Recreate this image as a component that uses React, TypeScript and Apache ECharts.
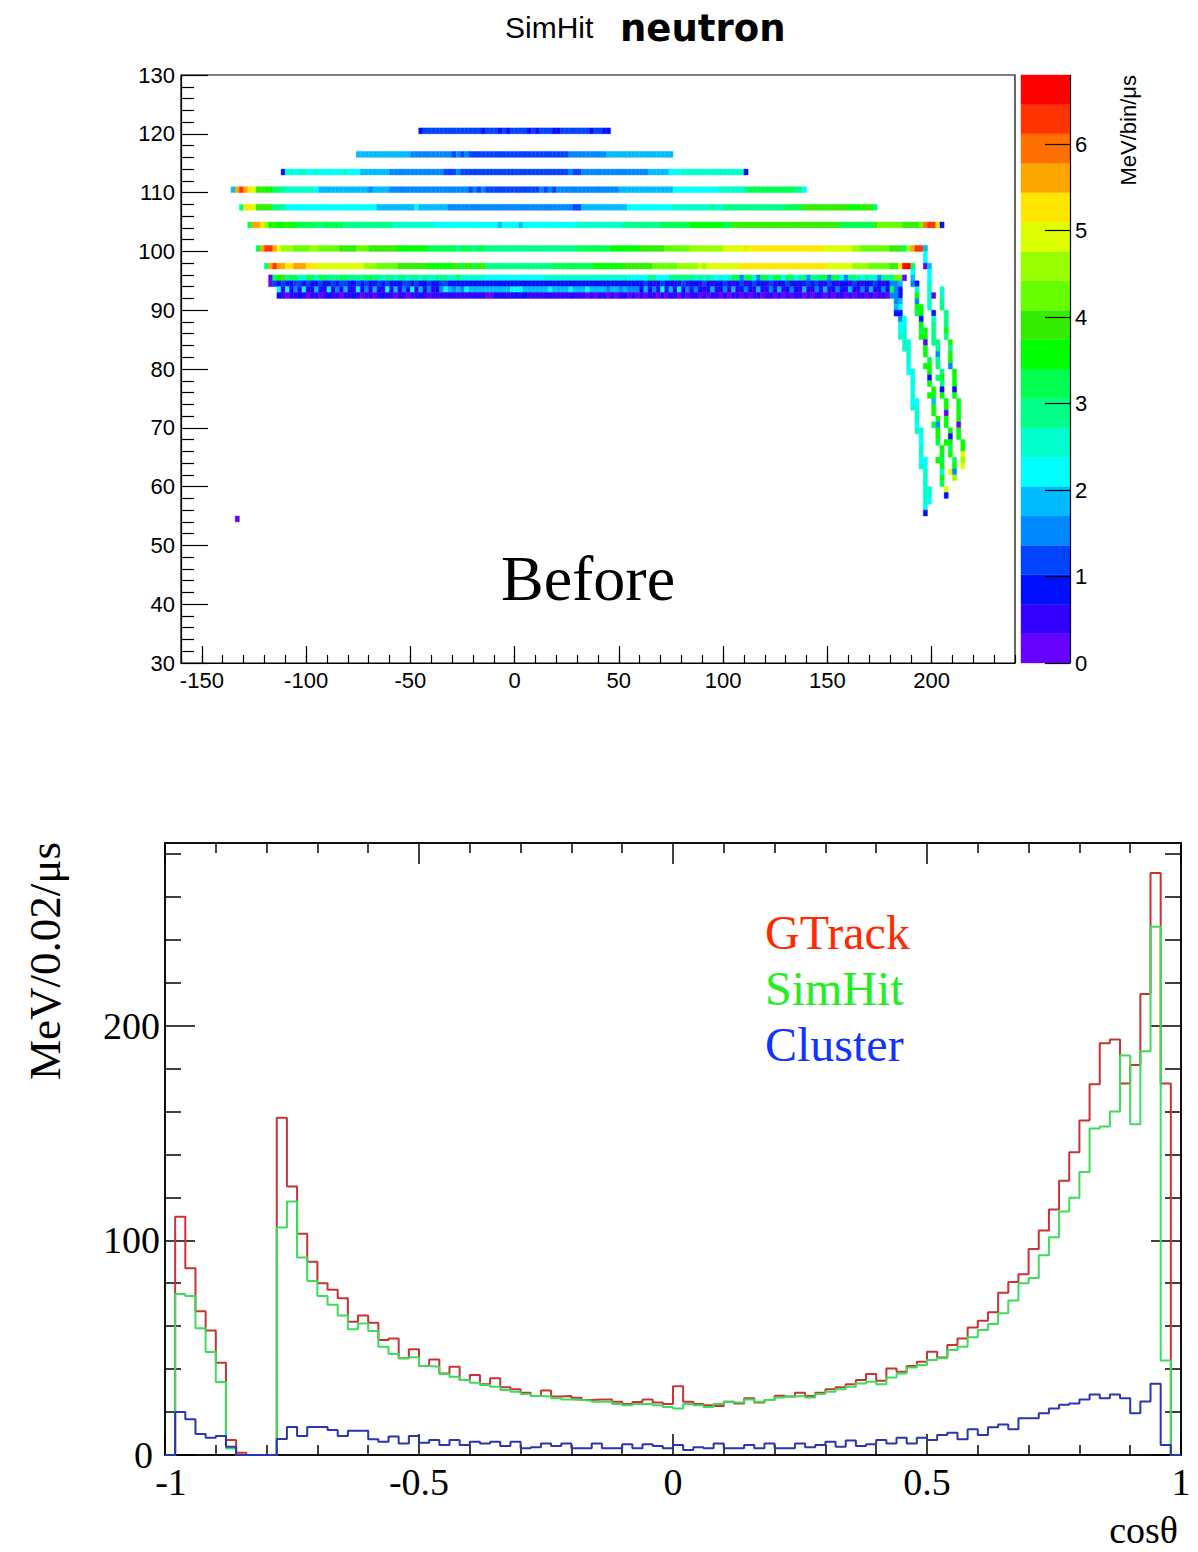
import React, { useEffect, useRef } from "react";
import * as echarts from "echarts";

const SANS = "Liberation Sans, Arial, sans-serif";
const SERIF = "Liberation Serif, Times New Roman, serif";

// ---------- Top panel: SimHit neutron energy map ----------
// 20-contour rainbow palette, 0 -> 6.8 MeV/bin/us
const PALETTE = [
  "#6600ff", "#3300ff", "#0010ff", "#0044ff", "#0088ff",
  "#00bbff", "#00ffff", "#00ffcc", "#00ff88", "#00ff50",
  "#00ff00", "#33ee00", "#66ff00", "#99ff00", "#ddff00",
  "#ffe600", "#ffa500", "#ff7000", "#ff3300", "#ff0000",
];
const Z_MAX = 6.8;
const BAND = Z_MAX / PALETTE.length;
// one character per 2-unit x bin: the colour band (0..j)
const CODE_CHARS = "0123456789abcdefghij";

const mapXMin = -160;
const mapXMax = 240;
const mapYMin = 30;
const mapYMax = 130;
const mapXLabels = [-150, -100, -50, 0, 50, 100, 150, 200];
const colorbarLabels = [0, 1, 2, 3, 4, 5, 6];

// horizontal rows: lower y edge, first bin lower x edge, codes
const rowY = [120, 116, 113, 110, 107, 104, 100, 97, 95, 94, 93, 92];
const rowStartX = [-46, -76, -112, -136, -132, -128, -124, -120, -118, -118, -114, -114];
const rowCodes = [
  "2" + "33333333333333" + "2" + "333" + "2" + "3" + "2" + "3333" + "2" + "3" + "2" + "333" + "22" + "3333333" + "2" + "33" + "22",
  "5555555555555" + "4444444444" + "3434" + "333333333333333333333333" + "444444444" + "5555555555555555",
  "2" + "77677667" + "666666" + "7" + "666" + "5555555" + "4444444444444" + "333" + "4" + "33333333333333333333333333" + "4" + "33" + "4444444444444444" + "55555" + "666" + "777777777777777" + "2",
  "5gigfebbaa988" + "7777777" + "6" + "555555555555" + "4" + "5555" + "444444444444" + "4444444" + "3434" + "3333333333333" + "43434" + "44444444444444" + "5555555555555" + "66666666666" + "777777" + "8" + "99999999999" + "88" + "6",
  "8ffebbbb888" + "6666666666666666666666" + "555555555" + "6" + "5555555" + "444444444444444444444444444444" + "33" + "55555555555" + "66666666666" + "777777777" + "8" + "77" + "888888888888888" + "9999" + "bbbbbbbbbbb" + "aaa" + "bbb" + "8",
  "9ggfd" + "abaabaa" + "99999899999" + "888888888888" + "7777777777" + "666666666666666" + "5" + "6666" + "5" + "6666666666666" + "77777777777" + "888888888" + "9999999" + "aaaaaaaa" + "99" + "bbbbbbbbbbbbbbbbbbbbbbbbbb" + "99999999" + "b" + "cccccc" + "bbbb" + "chiif2",
  "9giige" + "ddd" + "cccc" + "dd" + "ccccc" + "bbbb" + "ccc" + "bbbbbbb" + "aaaaaaa" + "999999" + "98999899" + "8888888888888888888888" + "99999999" + "aaaaaaa" + "bbbbbb" + "cccccc" + "dddddddd" + "eeee" + "efe" + "ffffff" + "fffffffffff" + "eeeeeee" + "dd" + "ccccccc" + "bbb" + "9dgiie",
  "8giggffgggfff" + "eeeeeeeeeee" + "ddd" + "ccccc" + "bbbbbbb" + "aaaaaa" + "bb9bb9bb" + "8888888888888888" + "9999999999" + "aaaaaaa" + "bbbbbbb" + "cccccc" + "ddddd" + "ed" + "eeeeeeee" + "fff" + "ffffffffffffffffff" + "eeeeee" + "dddd" + "ccccc" + "bb" + "fjj9",
  "0" + "9ab8" + "9977" + "9979" + "9888" + "9988" + "8899" + "8878" + "8788" + "7887" + "8778" + "88779" + "777777" + "66666666666666" + "777777777777777777777" + "6666" + "88" + "666" + "888888" + "7878767" + "6799" + "4997" + "4997" + "9969" + "9688" + "4889" + "9499" + "6488" + "8687" + "748" + "88cc0",
  "0" + "3232233232232232332232322323222332322322" + "33" + "22222222222222222222222222222222222222222222222" + "3212" + "3221" + "2312" + "2132" + "1223" + "2123" + "1232" + "2131" + "2232" + "1223" + "2312" + "3212" + "2132" + "1223" + "212" + "445",
  "6" + "1624" + "1612" + "5216" + "2415" + "2162" + "4152" + "1625" + "1426" + "1524" + "12" + "4" + "6" + "5454" + "6" + "5555555555" + "666" + "555555" + "6" + "5555" + "6" + "555" + "6" + "5555" + "4" + "55" + "4" + "5" + "444" + "2" + "524262526242" + "4212" + "5124" + "1512" + "4215" + "2142" + "5124" + "2152" + "1425" + "1242" + "1521" + "4251" + "242" + "942",
  "2" + "1011" + "2101" + "1012" + "1101" + "1210" + "1101" + "2110" + "1101" + "1210" + "11" + "11111111111" + "00" + "2121121211" + "1111111111" + "1101011010110101" + "0110" + "1011" + "0101" + "1010" + "1101" + "0110" + "1011" + "0110" + "1010" + "1101" + "0110" + "1011" + "0101" + "1010" + "110" + "442",
];

// slanted tracks: [x bin lower edge, top row lower y edge, codes going down one row each]
const trackSegments: [number, number, string][] = [
  [184, 91, "5624"], [182, 91, "452"], [186, 88, "6677"], [184, 87, "667"],
  [188, 84, "77776"], [186, 84, "77"], [190, 79, "76767"], [188, 79, "6"],
  [192, 74, "66776"], [190, 74, "67"], [194, 69, "76677"], [192, 69, "7"],
  [196, 64, "66777"], [194, 64, "67"], [198, 59, "776"], [196, 59, "77762"],
  [190, 96, "654"], [192, 94, "27a4"], [192, 90, "a9"], [194, 90, "aa2a9"], [194, 85, "a"],
  [196, 86, "aa0aa"], [196, 80, "a"], [198, 81, "9aa2a"], [198, 75, "a"],
  [200, 76, "aa5aa"], [200, 70, "9"], [202, 71, "a4aa9"], [202, 64, "a"],
  [204, 66, "aa9a7"], [204, 61, "a9"], [206, 59, "e2"],
  [196, 100, "566"], [196, 97, "0"], [198, 97, "56677"], [198, 92, "777"], [200, 92, "0"],
  [200, 89, "278888"], [202, 84, "88488"], [202, 78, "8"], [204, 79, "8a82a"],
  [206, 74, "aa0aa"], [206, 67, "a"], [208, 69, "a2a9a"], [208, 62, "e"], [210, 64, "9a4d"],
  [204, 93, "7788"], [206, 89, "888a8"], [208, 84, "a8aa4"], [210, 79, "aaa2a"],
  [212, 74, "aaaa0"], [212, 69, "aa"], [214, 67, "aaede"],
];
const isolatedHits: [number, number, string][] = [[-134, 54, "0"]];

// ---------- Bottom panel: energy vs cos(theta) ----------
const BIN_START = -1;
const BIN_WIDTH = 0.02;
const gtrack = [
  0, 111, 87, 67, 58, 43, 7, 1, 0, 0,
  0, 157, 125, 103, 90, 80, 77, 73, 62, 65,
  61.6, 53.5, 54.3, 45, 49.3, 41.4, 44.5, 38, 41.1, 34.9,
  37.2, 33, 35.7, 31.5, 30.6, 29, 27.5, 30, 27.2, 27.5,
  26.7, 25.6, 25.9, 25.9, 24.8, 23.7, 24.7, 25.9, 24.4, 23.7,
  32, 24.8, 23.7, 23.2, 22.8, 24.8, 24, 26.4, 24.4, 25.6,
  27.6, 27.2, 29, 27.5, 29, 30.6, 31.5, 33, 34.9, 37.7,
  34.6, 40.3, 38.8, 41.4, 43.4, 48.1, 45.4, 51.2, 54.3, 59.4,
  62.5, 66.5, 75.6, 80.6, 84.2, 95.9, 104.5, 114.3, 127.7, 141,
  155.8, 172.7, 191.7, 193.5, 173, 181.6, 214.7, 271, 173, 0,
];
const simhit = [
  0, 75, 74, 59, 48, 34, 3, 0, 0, 0,
  0, 106, 118, 92, 81, 74, 70, 65, 58.6, 61.2,
  57.8, 50.4, 47, 45, 45.5, 41.4, 41.1, 37.7, 36.4, 34.9,
  33.7, 32.6, 31.8, 30.3, 29.5, 28.4, 27.5, 27.2, 26.4, 25.9,
  25.6, 25.3, 24.8, 24.8, 23.7, 23.2, 23.7, 23.7, 23.2, 22.4,
  21.7, 23.7, 23.2, 22.4, 23.7, 24.8, 24.4, 25.9, 24.8, 25.6,
  26.8, 27.2, 27.5, 26.8, 28.4, 29.5, 30.6, 31.8, 33.3, 34.1,
  33, 36.1, 38, 40.8, 41.9, 44.2, 45, 48.9, 50.4, 54.8,
  58.2, 61, 66, 72, 80, 82.4, 93, 101.4, 113.4, 119.8,
  131.8, 152, 153, 160, 186, 154, 188, 246, 44, 0,
];
const cluster = [
  0, 20, 16.7, 9.8, 8, 8.8, 3.9, 0, 0, 0,
  0, 7.4, 13, 8.8, 13, 13, 11.6, 8.8, 11.3, 11.3,
  7.3, 6.2, 8.6, 5.4, 8.8, 5.7, 7, 4.7, 7, 4.7,
  6.2, 5.4, 6.2, 4.2, 6.2, 3.1, 3.6, 5.4, 4.2, 5.4,
  3.1, 3.1, 5.4, 3.1, 3.1, 5, 3.1, 5, 4.2, 3.1,
  4.7, 2.3, 3.6, 3.1, 5.4, 3.1, 3.1, 4.7, 3.1, 5.4,
  3.1, 3.1, 5.4, 3.6, 4.7, 6.2, 3.9, 6.7, 4.2, 5,
  7, 5.4, 8, 5.4, 8, 7, 9.3, 10.4, 7.3, 12,
  9.3, 12.9, 14.2, 12, 17.1, 17.1, 19.4, 21.6, 23.4, 24,
  25.8, 28.2, 26.4, 28.2, 26.4, 19.4, 24.9, 33.2, 4.6, 0,
];
const cosYMax = 285;
const cosYLabels = [0, 100, 200];
const cosYMinor = [20, 40, 60, 80, 120, 140, 160, 180, 220, 240, 260, 280];
const seriesNames = ["GTrack", "SimHit", "Cluster"];
const lineColors = ["#c83434", "#3ddc5a", "#2a35b0"];
const legendColors = ["#ff2a00", "#22ee22", "#1133ff"];

const codeValue = (c: string) => (CODE_CHARS.indexOf(c) + 0.5) * BAND;

function buildCells(): number[][] {
  const cells: number[][] = [];
  rowCodes.forEach((codes, r) => {
    codes.split("").forEach((c, i) => cells.push([rowStartX[r] + 2 * i, rowY[r], codeValue(c)]));
  });
  [...trackSegments, ...isolatedHits].forEach(([x, yTop, codes]) => {
    codes.split("").forEach((c, i) => cells.push([x, yTop - i, codeValue(c)]));
  });
  return cells;
}

function histPoints(values: number[]): number[][] {
  const pts = values.map((v, i) => [BIN_START + BIN_WIDTH * i, v]);
  pts.push([BIN_START + BIN_WIDTH * values.length, values[values.length - 1]]);
  return pts;
}

export default function App() {
  const ref = useRef<HTMLDivElement>(null);
  useEffect(() => {
    if (!ref.current) return;
    const chart = echarts.init(ref.current, undefined, { renderer: "svg" });
    const minorMapX: number[] = [];
    for (let v = mapXMin; v <= mapXMax; v += 10) minorMapX.push(v);
    const bands = PALETTE.map((_, i) => [i * BAND, (i + 1) * BAND, i]);
    const black = { color: "#000", width: 1.2 };
    const black2 = { color: "#000", width: 1.5 };
    const hidden = { show: false, onZero: false };

    const option: any = {
      animation: false,
      backgroundColor: "#fff",
      grid: [
        { left: 181, top: 75, width: 834, height: 588, show: true, borderColor: "#000", borderWidth: 1.2, backgroundColor: "transparent" },
        { left: 1021, top: 75, width: 49, height: 588 },
        { left: 165, top: 843, width: 1016, height: 612, show: true, borderColor: "#000", borderWidth: 1.5, backgroundColor: "transparent" },
      ],
      xAxis: [
        {
          gridIndex: 0, type: "value", min: mapXMin, max: mapXMax, position: "bottom",
          axisLine: { show: true, onZero: false, lineStyle: black },
          axisTick: { show: true, inside: true, length: 17, customValues: mapXLabels, lineStyle: black },
          axisLabel: { customValues: mapXLabels, fontFamily: SANS, fontSize: 22, color: "#000", margin: 6 },
          splitLine: { show: false },
        },
        {
          gridIndex: 0, type: "value", min: mapXMin, max: mapXMax, position: "bottom",
          axisLine: hidden,
          axisTick: { show: true, inside: true, length: 8, customValues: minorMapX, lineStyle: black },
          axisLabel: { show: false },
          splitLine: { show: false },
        },
        { gridIndex: 1, type: "value", min: 0, max: 1, show: false },
        {
          gridIndex: 2, type: "value", min: -1, max: 1, interval: 0.5, position: "bottom",
          axisLine: { show: true, onZero: false, lineStyle: black2 },
          axisTick: { show: true, inside: true, length: 21, lineStyle: black2 },
          minorTick: { show: true, splitNumber: 5, length: 10, lineStyle: black2 },
          axisLabel: {
            fontFamily: SERIF, fontSize: 38, color: "#000", margin: 8,
            formatter: (v: number) => (v === -1 ? "{first|-1}" : String(v)),
            rich: { first: { fontFamily: SERIF, fontSize: 38, color: "#000", padding: [0, 0, 0, 12] } },
          },
          splitLine: { show: false }, minorSplitLine: { show: false },
        },
        {
          gridIndex: 2, type: "value", min: -1, max: 1, interval: 0.5, position: "top",
          axisLine: { show: true, onZero: false, lineStyle: black2 },
          axisTick: { show: true, inside: true, length: 21, lineStyle: black2 },
          minorTick: { show: true, splitNumber: 5, length: 10, lineStyle: black2 },
          axisLabel: { show: false },
          splitLine: { show: false }, minorSplitLine: { show: false },
        },
      ],
      yAxis: [
        {
          gridIndex: 0, type: "value", min: mapYMin, max: mapYMax, interval: 10, position: "left",
          axisLine: { show: true, onZero: false, lineStyle: black },
          axisTick: { show: true, inside: true, length: 27, lineStyle: black },
          minorTick: { show: true, splitNumber: 5, length: 13, lineStyle: black },
          axisLabel: { fontFamily: SANS, fontSize: 22, color: "#000", margin: 6 },
          splitLine: { show: false }, minorSplitLine: { show: false },
        },
        {
          gridIndex: 1, type: "value", min: 0, max: Z_MAX, position: "right", z: 10,
          axisLine: { show: true, onZero: false, lineStyle: black },
          axisTick: { show: true, inside: true, length: 25, customValues: colorbarLabels, lineStyle: black },
          axisLabel: { customValues: colorbarLabels, fontFamily: SANS, fontSize: 22, color: "#000", margin: 5 },
          splitLine: { show: false },
        },
        {
          gridIndex: 2, type: "value", min: 0, max: cosYMax, position: "left",
          axisLine: { show: true, onZero: false, lineStyle: black2 },
          axisTick: { show: true, inside: true, length: 30, customValues: cosYLabels, lineStyle: black2 },
          axisLabel: {
            customValues: cosYLabels, fontFamily: SERIF, fontSize: 38, color: "#000", margin: 5,
            formatter: (v: number) => (v === 0 ? "{zero|0}" : String(v)),
            rich: { zero: { fontFamily: SERIF, fontSize: 38, color: "#000", padding: [0, 7, 0, 0] } },
          },
          splitLine: { show: false },
        },
        {
          gridIndex: 2, type: "value", min: 0, max: cosYMax, position: "left",
          axisLine: hidden,
          axisTick: { show: true, inside: true, length: 16, customValues: cosYMinor, lineStyle: black2 },
          axisLabel: { show: false }, splitLine: { show: false },
        },
        {
          gridIndex: 2, type: "value", min: 0, max: cosYMax, position: "right",
          axisLine: { show: true, onZero: false, lineStyle: black2 },
          axisTick: { show: true, inside: true, length: 30, customValues: cosYLabels, lineStyle: black2 },
          axisLabel: { show: false }, splitLine: { show: false },
        },
        {
          gridIndex: 2, type: "value", min: 0, max: cosYMax, position: "right",
          axisLine: hidden,
          axisTick: { show: true, inside: true, length: 16, customValues: cosYMinor, lineStyle: black2 },
          axisLabel: { show: false }, splitLine: { show: false },
        },
      ],
      series: [
        {
          type: "custom", name: "SimHit map", xAxisIndex: 0, yAxisIndex: 0, silent: true,
          data: buildCells(), encode: { x: 0, y: 1 },
          renderItem: (_p: any, api: any) => {
            const x = api.value(0), y = api.value(1), v = api.value(2);
            const a = api.coord([x, y + 1]);
            const b = api.coord([x + 2, y]);
            const col = PALETTE[Math.min(PALETTE.length - 1, Math.floor(v / BAND))];
            return {
              type: "rect",
              shape: { x: a[0], y: a[1], width: b[0] - a[0], height: b[1] - a[1] },
              style: { fill: col, stroke: col, lineWidth: 0.4 },
            };
          },
        },
        {
          type: "custom", name: "colour scale", xAxisIndex: 2, yAxisIndex: 1, silent: true,
          data: bands, encode: { y: [0, 1] },
          renderItem: (_p: any, api: any) => {
            const a = api.coord([0, api.value(1)]);
            const b = api.coord([1, api.value(0)]);
            const col = PALETTE[api.value(2)];
            return {
              type: "rect",
              shape: { x: a[0], y: a[1], width: b[0] - a[0], height: b[1] - a[1] },
              style: { fill: col, stroke: col, lineWidth: 0.4 },
            };
          },
        },
        ...[gtrack, simhit, cluster].map((vals, k) => ({
          type: "line", name: seriesNames[k], xAxisIndex: 3, yAxisIndex: 2,
          data: histPoints(vals), step: "end", symbol: "none", silent: true,
          lineStyle: { color: lineColors[k], width: 2 },
          z: 3 + k,
        })),
      ],
      graphic: [
        { type: "text", x: 505, y: 27, style: { text: "SimHit", fontFamily: SANS, fontSize: 30, fill: "#000", align: "left", verticalAlign: "middle" } },
        { type: "text", x: 620, y: 28, style: { text: "neutron", fontFamily: "DejaVu Sans", fontWeight: "bold", fontSize: 37, fill: "#000", align: "left", verticalAlign: "middle" } },
        { type: "text", x: 588, y: 578, style: { text: "Before", fontFamily: SERIF, fontSize: 64, fill: "#000", align: "center", verticalAlign: "middle" } },
        { type: "text", x: 1128, y: 75, rotation: Math.PI / 2, style: { text: "MeV/bin/μs", fontFamily: SANS, fontSize: 22, fill: "#000", align: "right", verticalAlign: "middle" } },
        { type: "text", x: 45, y: 842, rotation: Math.PI / 2, style: { text: "MeV/0.02/μs", fontFamily: SERIF, fontSize: 45, fill: "#000", align: "right", verticalAlign: "middle" } },
        { type: "text", x: 1178, y: 1530, style: { text: "cosθ", fontFamily: SERIF, fontSize: 38, fill: "#000", align: "right", verticalAlign: "middle" } },
        ...seriesNames.map((n, k) => ({
          type: "text", x: 765, y: 932 + 56 * k,
          style: { text: n, fontFamily: SERIF, fontSize: 48, fill: legendColors[k], align: "left", verticalAlign: "middle" },
        })),
      ],
    };
    chart.setOption(option);
    return () => chart.dispose();
  }, []);
  return <div ref={ref} style={{ position: "absolute", left: 0, top: 0, width: 1198, height: 1552 }} />;
}
